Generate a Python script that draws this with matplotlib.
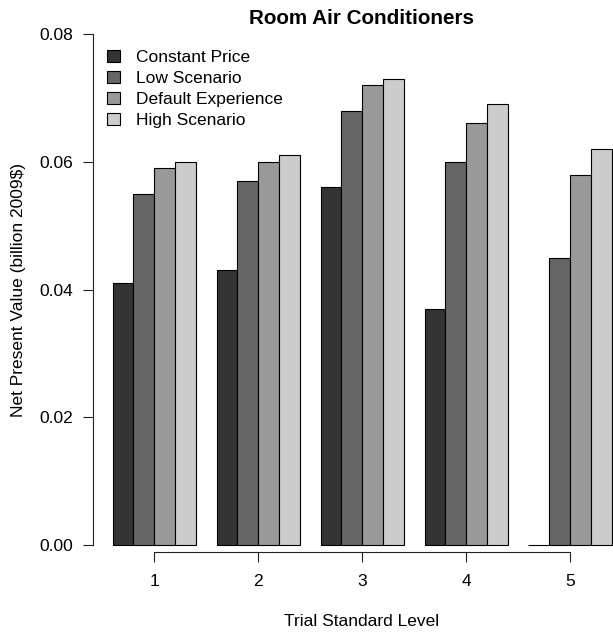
import matplotlib
matplotlib.use("Agg")
import matplotlib.pyplot as plt
import numpy as np

plt.rcParams['font.family'] = ['Liberation Sans', 'DejaVu Sans']

levels = ["1", "2", "3", "4", "5"]
series = ["Constant Price", "Low Scenario", "Default Experience", "High Scenario"]
constant_price = [0.041, 0.043, 0.056, 0.037, 0.000]
low_scenario = [0.055, 0.057, 0.068, 0.060, 0.045]
default_experience = [0.059, 0.060, 0.072, 0.066, 0.058]
high_scenario = [0.060, 0.061, 0.073, 0.069, 0.062]
colors = ["#333333", "#666666", "#999999", "#CCCCCC"]
yticks = [0.00, 0.02, 0.04, 0.06, 0.08]

W, H = 613, 638
dpi = 100
fig = plt.figure(figsize=(W / dpi, H / dpi), dpi=dpi)

# axes placed in pixel coordinates
left_px, right_px, top_px, bottom_px = 93.3, 613.0, 34.0, 552.3
ax = fig.add_axes([left_px / W, 1 - bottom_px / H,
                   (right_px - left_px) / W, (bottom_px - top_px) / H])

unit = 20.79
x0_px = 91.9
ax.set_xlim((left_px - x0_px) / unit, (right_px - x0_px) / unit)
ax.set_ylim(-0.00114, 0.08)

data = [constant_price, low_scenario, default_experience, high_scenario]
n = len(levels)
for j, (vals, name, c) in enumerate(zip(data, series, colors)):
    lefts = [1 + 5 * g + j for g in range(n)]
    ax.bar(lefts, vals, width=1, align='edge', color=c, edgecolor='black',
           linewidth=0.8, label=name, clip_on=False)

centers = [1 + 5 * g + 2 for g in range(n)]

for s in ['top', 'right']:
    ax.spines[s].set_visible(False)
ax.spines['left'].set_bounds(0, 0.08)
ax.spines['bottom'].set_bounds(centers[0], centers[-1])
for s in ['left', 'bottom']:
    ax.spines[s].set_linewidth(0.8)
    ax.spines[s].set_color('#222222')

ax.set_xticks(centers)
ax.set_xticklabels(levels)
ax.set_yticks(yticks)
ax.set_yticklabels(["%.2f" % v for v in yticks])
ax.tick_params(axis='both', direction='out', length=7.5, width=0.8,
               color='#222222', labelsize=12.5)
ax.tick_params(axis='x', pad=8)
ax.tick_params(axis='y', pad=7)

fig.text(361.5 / W, 1 - 19 / H, "Room Air Conditioners", ha='center', va='center',
         fontsize=14.9, fontweight='bold')
fig.text(19 / W, 1 - 289.5 / H, "Net Present Value (billion 2009$)", ha='center',
         va='center', rotation=90, fontsize=12.5)
fig.text(361.5 / W, 1 - 622 / H, "Trial Standard Level", ha='center', va='center',
         fontsize=12.5)

leg = ax.legend(loc='upper left', bbox_to_anchor=(107 / W, 1 - 50 / H),
                bbox_transform=fig.transFigure, frameon=False, fontsize=12.5,
                handlelength=0.72, handleheight=0.72, handletextpad=0.95,
                labelspacing=0.33, borderpad=0, borderaxespad=0)
for p in leg.get_patches():
    p.set_linewidth(0.8)

fig.savefig("out.png", dpi=dpi)
